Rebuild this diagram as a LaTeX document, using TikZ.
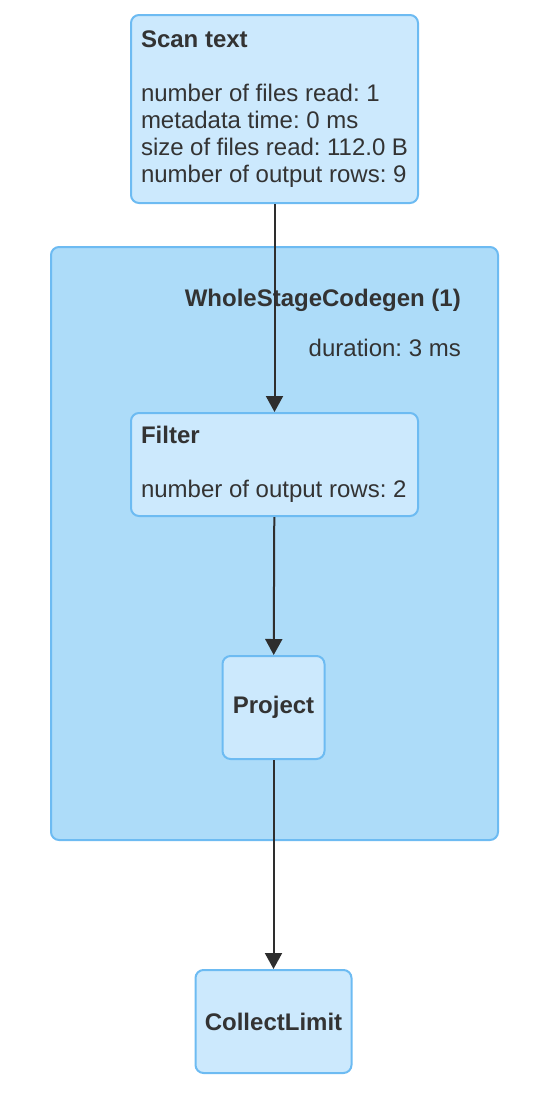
\documentclass[tikz,border=0pt]{standalone}
\usepackage{fontspec}
\setmainfont{Liberation Sans}
\usepackage{xcolor}
\usetikzlibrary{arrows.meta}
\definecolor{nodefill}{HTML}{CCE9FD}
\definecolor{clusterfill}{HTML}{ADDCF9}
\definecolor{borderblue}{HTML}{6DBBF2}
\definecolor{textgray}{HTML}{333333}
\definecolor{edgegray}{HTML}{2E2E2E}
\frenchspacing

\begin{document}
\begin{tikzpicture}[x=1pt,y=-1pt,
  plan/.style={draw=borderblue,line width=2pt,fill=nodefill,rounded corners=8pt,
    text=textgray,font=\fontsize{24}{27}\selectfont,inner sep=0pt},
  label/.style={text=textgray,font=\fontsize{24}{27}\selectfont,inner sep=0pt},
  flow/.style={-{Triangle[length=16pt,width=17pt]},draw=edgegray,fill=edgegray,line width=2pt}]

  \useasboundingbox (0,0) rectangle (534,1112);

  % Cluster
  \node[plan,fill=clusterfill,anchor=north west,minimum width=447pt,minimum height=593pt] (WholeStage) at (50,246) {};
  \node[label,anchor=east,font=\fontsize{24}{27}\selectfont\bfseries] (StageName) at (461,300) {WholeStageCodegen (1)};
  \node[label,anchor=east] (StageTime) at (461,348) {duration: 3 ms};

  % Operators
  \node[plan,anchor=north west,minimum width=287pt,minimum height=188pt,text width=267pt,align=flush left] (ScanText) at (130,14)
    {\textbf{Scan text}\\[27pt]number of files read: 1\\metadata time: 0 ms\\size of files read: 112.0 B\\number of output rows: 9};
  \node[plan,anchor=north west,minimum width=287pt,minimum height=103pt,text width=267pt,align=flush left] (Filter) at (130,412)
    {\textbf{Filter}\\[27pt]number of output rows: 2};
  \node[plan,minimum width=102pt,minimum height=103pt] (Project) at (273.5,707.5) {\textbf{Project}};
  \node[plan,minimum width=156pt,minimum height=103pt] (CollectLimit) at (273.5,1021.5) {\textbf{CollectLimit}};

\draw[flow] (ScanText) to (Filter);
\draw[flow] (Filter) to (Project);
\draw[flow] (Project) to (CollectLimit);

\end{tikzpicture}
\end{document}
